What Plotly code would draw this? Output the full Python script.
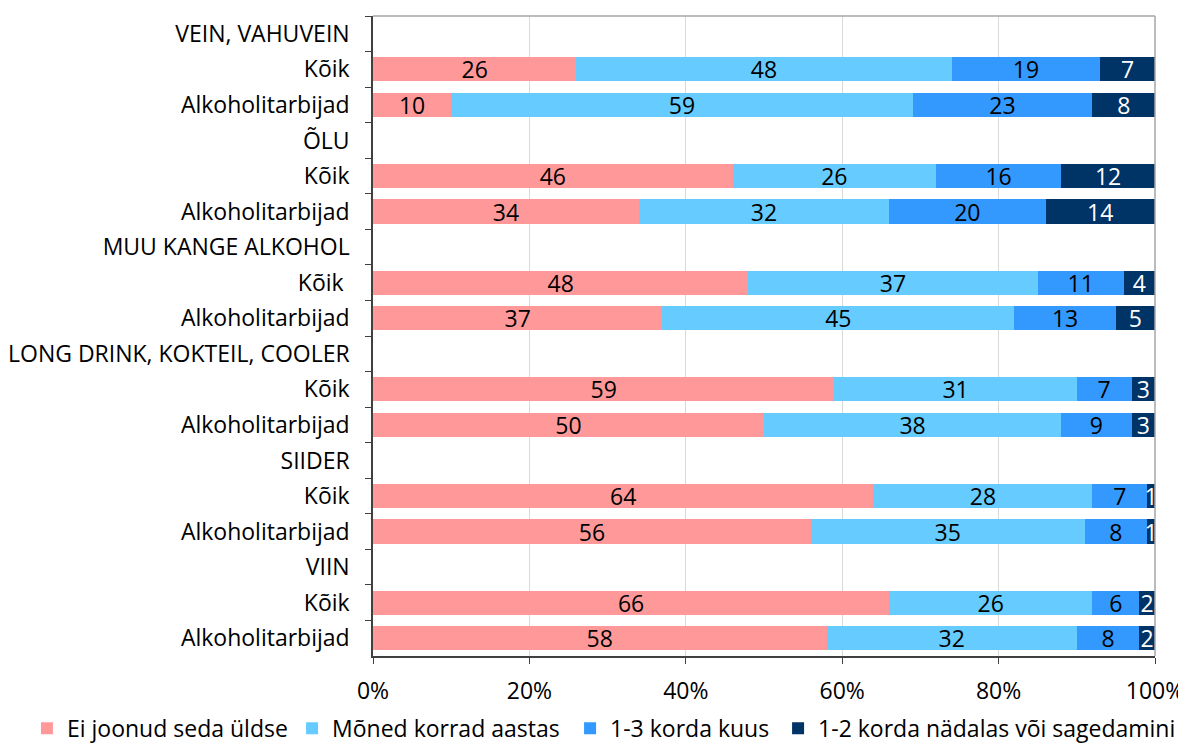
import plotly.graph_objects as go

groups = ["VEIN, VAHUVEIN", "ÕLU", "MUU KANGE ALKOHOL", "LONG DRINK, KOKTEIL, COOLER", "SIIDER", "VIIN"]
sub_labels = ["Kõik", "Alkoholitarbijad"]
series_names = ["Ei joonud seda üldse", "Mõned korrad aastas", "1-3 korda kuus", "1-2 korda nädalas või sagedamini"]
colors = ["#FF9999", "#66CCFF", "#3399FF", "#003366"]
text_colors = ["black", "black", "black", "white"]
legend_x = [-0.4425, -0.1035, 0.2520, 0.5180]
x_ticks = [0, 20, 40, 60, 80, 100]
x_ticktext = ["0%", "20%", "40%", "60%", "80%", "100%"]

# values per group: [Kõik, Alkoholitarbijad] for each series
ei_joonud = [[26, 10], [46, 34], [48, 37], [59, 50], [64, 56], [66, 58]]
monel = [[48, 59], [26, 32], [37, 45], [31, 38], [28, 35], [26, 32]]
kuus = [[19, 23], [16, 20], [11, 13], [7, 9], [7, 8], [6, 8]]
nadalas = [[7, 8], [12, 14], [4, 5], [3, 3], [1, 1], [2, 2]]
all_series = [ei_joonud, monel, kuus, nadalas]

FONT = "Open Sans"
FS = 23

# build category list (unique keys via invisible suffixes)
cats = []
for gi, g in enumerate(groups):
    cats.append(g)
    for si, s in enumerate(sub_labels):
        lab = s + "\u200b" * (gi + 1)
        if gi == 2 and si == 0:
            lab = s + "\u00a0" + "\u200b" * (gi + 1)
        cats.append(lab)

legend_ids = ["legend", "legend2", "legend3", "legend4"]

fig = go.Figure()
for k, name in enumerate(series_names):
    xs = []
    for gi, g in enumerate(groups):
        xs.append(None)
        xs.extend(all_series[k][gi])
    fig.add_trace(go.Bar(
        y=cats, x=xs, name=name, orientation="h",
        marker=dict(color=colors[k], line=dict(width=0)),
        text=[("" if v is None else str(v)) for v in xs],
        textposition="inside", insidetextanchor="middle", textangle=0,
        constraintext="none", cliponaxis=False,
        textfont=dict(color=text_colors[k], size=FS, family=FONT),
        hoverinfo="skip", legend=legend_ids[k], showlegend=True,
    ))

legend_common = dict(orientation="h", xanchor="left", y=-0.0794, yanchor="top",
                     font=dict(size=FS, family=FONT), itemwidth=30, bgcolor="rgba(0,0,0,0)",
                     visible=True)

# page body has an 8px margin: shrink the figure so the plot area lands where the reference has it
layout_kwargs = dict(
    barmode="stack", bargap=0.32, showlegend=True,
    width=1178, height=737,
    margin=dict(l=365, r=31, t=8, b=89, autoexpand=False),
    paper_bgcolor="white", plot_bgcolor="white",
    font=dict(family=FONT, size=FS, color="black"),
    shapes=[
        dict(type="line", xref="paper", yref="paper", x0=0, x1=1, y0=1, y1=1,
             line=dict(color="#A6A6A6", width=1.5), layer="above"),
        dict(type="line", xref="paper", yref="paper", x0=1, x1=1, y0=0, y1=1,
             line=dict(color="#A6A6A6", width=1.5), layer="above"),
    ],
)
for k, lid in enumerate(legend_ids):
    layout_kwargs[lid] = dict(legend_common, x=legend_x[k])
fig.update_layout(**layout_kwargs)

fig.update_xaxes(range=[0, 100], tickvals=x_ticks, ticktext=x_ticktext,
                 showgrid=True, gridcolor="#D9D9D9", gridwidth=1,
                 showline=True, linecolor="#404040", linewidth=1.5,
                 ticks="outside", ticklen=6, tickcolor="#404040", zeroline=False,
                 ticklabelstandoff=8)
fig.update_yaxes(type="category", categoryorder="array", categoryarray=cats,
                 autorange="reversed", tickson="boundaries",
                 showline=True, linecolor="#404040", linewidth=1.5,
                 ticks="outside", ticklen=6, tickcolor="#404040", showgrid=False,
                 ticklabelstandoff=17)

fig.write_html("out.html")
